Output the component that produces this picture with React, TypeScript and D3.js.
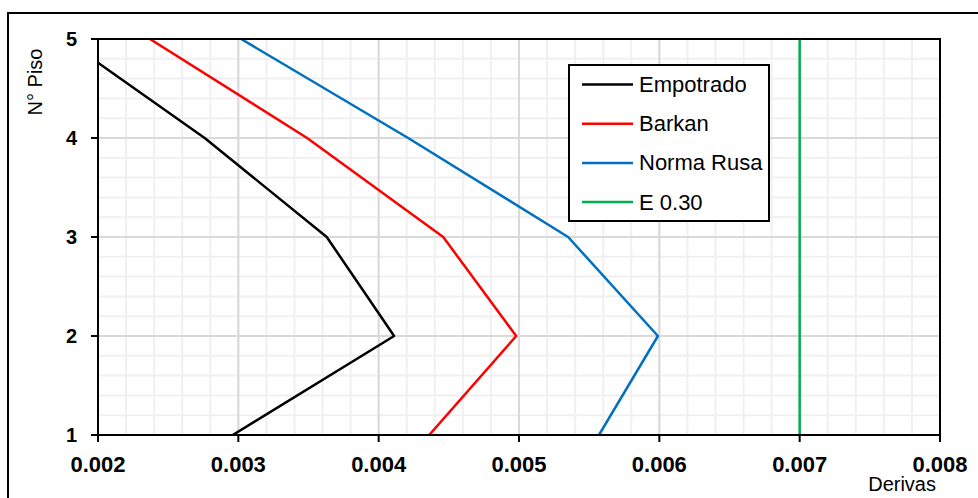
import React from "react";
import * as d3 from "d3";

const floors = [1, 2, 3, 4, 5];
const empotrado = [0.00296, 0.00411, 0.00363, 0.00276, 0.00176];
const barkan = [0.00436, 0.00498, 0.00446, 0.00349, 0.00237];
const normaRusa = [0.00557, 0.00599, 0.00535, 0.00421, 0.00302];
const e030 = [0.007, 0.007, 0.007, 0.007, 0.007];

const xTicks = [0.002, 0.003, 0.004, 0.005, 0.006, 0.007, 0.008];
const yTicks = [1, 2, 3, 4, 5];

const seriesNames = ["Empotrado", "Barkan", "Norma Rusa", "E 0.30"];
const seriesValues = [empotrado, barkan, normaRusa, e030];
const seriesColors = ["#000000", "#ff0000", "#0070c0", "#00b050"];

const W = 978;
const H = 498;
const M = { left: 98, right: 940, top: 39, bottom: 435 };
const FONT = "'Liberation Sans', Arial, sans-serif";

export default function App() {
  const x = d3.scaleLinear().domain([0.002, 0.008]).range([M.left, M.right]);
  const y = d3.scaleLinear().domain([1, 5]).range([M.bottom, M.top]);

  const xMinor = d3.range(0, 31).map((i) => 0.002 + i * 0.0002);
  const yMinor = d3.range(0, 21).map((i) => 1 + i * 0.2);

  const line = d3
    .line<[number, number]>()
    .x((d) => x(d[0]))
    .y((d) => y(d[1]));

  const legend = { x: 569, y: 65, w: 200, h: 156 };

  return (
    <svg
      width={W}
      height={H}
      style={{ position: "absolute", left: 0, top: 0, background: "#fff" }}
      fontFamily={FONT}
    >
      <defs>
        <clipPath id="plotClip">
          <rect x={M.left} y={M.top} width={M.right - M.left} height={M.bottom - M.top} />
        </clipPath>
      </defs>
      <rect x={8} y={13} width={1200} height={800} fill="#fff" stroke="#000" strokeWidth={2} />

      {/* minor grid */}
      {xMinor.map((v, i) => (
        <line key={"xm" + i} x1={x(v)} x2={x(v)} y1={M.top} y2={M.bottom} stroke="#f0f0f0" strokeWidth={2} />
      ))}
      {yMinor.map((v, i) => (
        <line key={"ym" + i} x1={M.left} x2={M.right} y1={y(v)} y2={y(v)} stroke="#f0f0f0" strokeWidth={2} />
      ))}
      {/* major grid */}
      {xTicks.map((v, i) => (
        <line key={"xM" + i} x1={x(v)} x2={x(v)} y1={M.top} y2={M.bottom} stroke="#d9d9d9" strokeWidth={2} />
      ))}
      {yTicks.map((v, i) => (
        <line key={"yM" + i} x1={M.left} x2={M.right} y1={y(v)} y2={y(v)} stroke="#d9d9d9" strokeWidth={2} />
      ))}

      {/* series */}
      <g clipPath="url(#plotClip)">
        {seriesValues.map((vals, si) => (
          <path
            key={"s" + si}
            d={line(vals.map((v, i) => [v, floors[i]] as [number, number])) || ""}
            fill="none"
            stroke={seriesColors[si]}
            strokeWidth={2.5}
            strokeLinejoin="round"
          />
        ))}
      </g>

      {/* plot border */}
      <rect
        x={M.left}
        y={M.top}
        width={M.right - M.left}
        height={M.bottom - M.top}
        fill="none"
        stroke="#000"
        strokeWidth={2}
      />

      {/* ticks */}
      {xTicks.map((v, i) => (
        <g key={"xt" + i}>
          <line x1={x(v)} x2={x(v)} y1={M.bottom} y2={M.bottom + 7} stroke="#000" strokeWidth={2} />
          <text x={x(v)} y={472} textAnchor="middle" fontWeight="bold" fontSize={22} fill="#000">
            {v.toFixed(3)}
          </text>
        </g>
      ))}
      {yTicks.map((v, i) => (
        <g key={"yt" + i}>
          <line x1={M.left - 7} x2={M.left} y1={y(v)} y2={y(v)} stroke="#000" strokeWidth={2} />
          <text x={77} y={y(v) + 7} textAnchor="end" fontWeight="bold" fontSize={20} fill="#000">
            {v}
          </text>
        </g>
      ))}

      {/* axis titles */}
      <text x={936} y={491} textAnchor="end" fontSize={20} fill="#000">
        Derivas
      </text>
      <text
        transform={`translate(42,82) rotate(-90)`}
        textAnchor="middle"
        fontSize={20}
        fill="#000"
      >
        N° Piso
      </text>

      {/* legend */}
      <rect x={legend.x} y={legend.y} width={legend.w} height={legend.h} fill="#fff" stroke="#000" strokeWidth={2} />
      {seriesNames.map((name, i) => {
        const cy = 84.5 + i * 39.2;
        return (
          <g key={"lg" + i}>
            <line x1={582} x2={633} y1={cy} y2={cy} stroke={seriesColors[i]} strokeWidth={2.5} />
            <text x={639} y={cy + 7.5} fontSize={22} fill="#000">
              {name}
            </text>
          </g>
        );
      })}
    </svg>
  );
}
